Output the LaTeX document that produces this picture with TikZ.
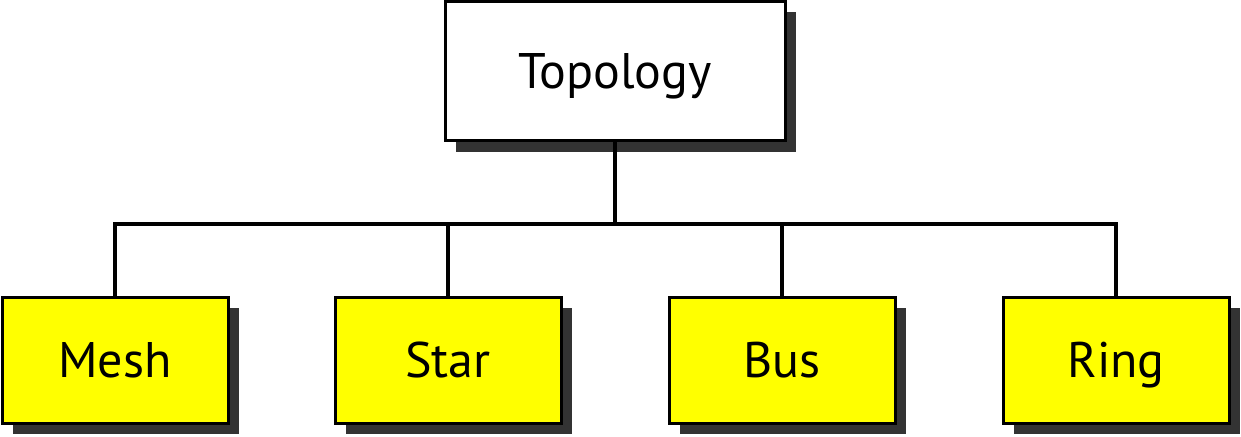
\documentclass[tikz,border=0pt]{standalone}
\usepackage{fontspec}
\setmainfont{PT Sans}
\usetikzlibrary{shadows}
\begin{document}
\begin{tikzpicture}[x=1pt,y=-1pt,
  box/.style={draw=black, line width=3pt, minimum width=226pt, minimum height=126pt,
    inner sep=0pt, font=\fontsize{50}{60}\selectfont, text height=34pt, text depth=0pt,
    drop shadow={shadow xshift=11pt, shadow yshift=-11pt, fill=shadowgrey, opacity=1}},
  topbox/.style={box, fill=white, minimum width=340pt, minimum height=139pt},
  leaf/.style={box, fill=leafyellow},
  conn/.style={draw=black, line width=3.5pt, line join=miter}]
\definecolor{leafyellow}{RGB}{255,255,0}
\definecolor{shadowgrey}{RGB}{51,51,51}
\useasboundingbox (0,0) rectangle (1241,436);
\node[topbox] (top) at (615,71) {Topology};
\node[leaf] (mesh) at (115,360) {Mesh};
\node[leaf] (star) at (448,360) {Star};
\node[leaf] (bus) at (782,360) {Bus};
\node[leaf] (ring) at (1116,360) {Ring};
\coordinate (bl) at (115,224);
\coordinate (br) at (1116,224);
\draw[conn] (mesh.north) -- (bl) -- (br) -- (ring.north);
\draw[conn] (top.south) -- (top.south |- bl);
\draw[conn] (star.north) -- (star.north |- bl);
\draw[conn] (bus.north) -- (bus.north |- bl);
\end{tikzpicture}
\end{document}
